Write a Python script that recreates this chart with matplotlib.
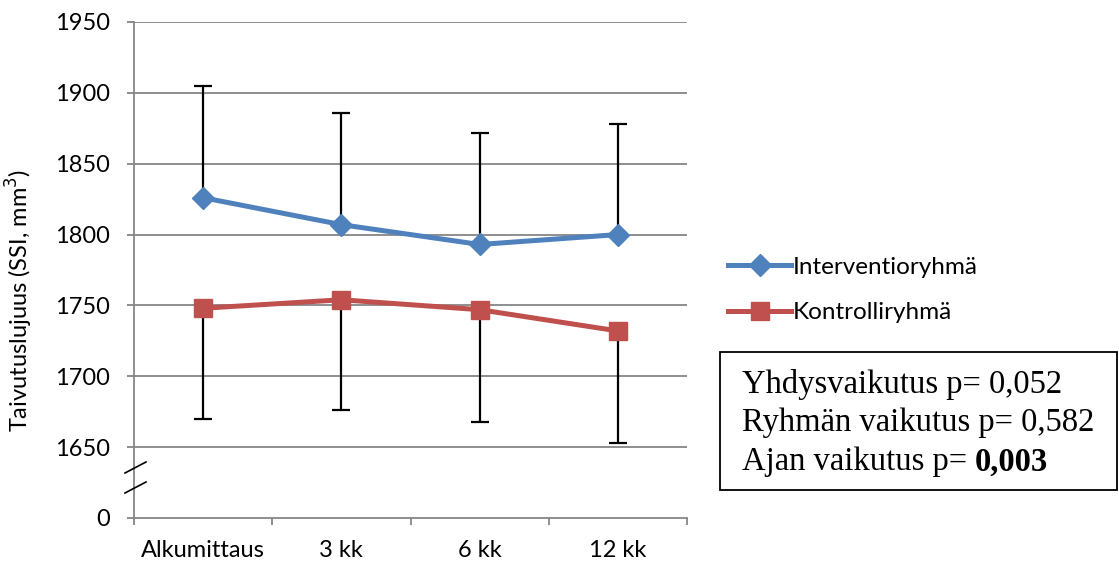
import matplotlib
matplotlib.use("Agg")
import matplotlib.pyplot as plt
import matplotlib.patches as patches
from matplotlib.lines import Line2D
import numpy as np

categories = ["Alkumittaus", "3 kk", "6 kk", "12 kk"]
interv = [1826, 1807, 1793, 1800]
interv_upper = [1905, 1886, 1872, 1878]
kontr = [1748, 1754, 1747, 1732]
kontr_lower = [1670, 1676, 1668, 1653]
ytick_vals = [1600, 1650, 1700, 1750, 1800, 1850, 1900, 1950]
ytick_labels = ["0", "1650", "1700", "1750", "1800", "1850", "1900", "1950"]
series_names = ["Interventioryhmä", "Kontrolliryhmä"]
stats_lines = ["Yhdysvaikutus p= 0,052", "Ryhmän vaikutus p= 0,582", "Ajan vaikutus p= "]
stats_bold = "0,003"

W, H = 1119, 562
fig = plt.figure(figsize=(W/100, H/100), dpi=100)
sans = "Lato"
fs = 17

ax = fig.add_axes([134/W, 1-518/H, (687-134)/W, (518-22)/H])
x = np.arange(len(categories))
blue = "#4F81BD"
red = "#C0504D"
grid = "#868686"

err_b = np.array(interv_upper) - np.array(interv)
err_r = np.array(kontr) - np.array(kontr_lower)

ax.errorbar(x, interv, yerr=[np.zeros_like(err_b), err_b], fmt="none", ecolor="black",
            elinewidth=1.6, capsize=6.5, capthick=1.6, zorder=3)
ax.errorbar(x, kontr, yerr=[err_r, np.zeros_like(err_r)], fmt="none", ecolor="black",
            elinewidth=1.6, capsize=6.5, capthick=1.6, zorder=3)
ax.plot(x, interv, color=blue, lw=3.6, marker="D", ms=11.5, markeredgecolor=blue, label=series_names[0], zorder=4)
ax.plot(x, kontr, color=red, lw=3.6, marker="s", ms=13.5, markeredgecolor=red, label=series_names[1], zorder=4)

ax.set_xlim(-0.5, len(categories)-0.5)
ax.set_ylim(1600, 1950)
ax.set_yticks(ytick_vals)
ax.set_yticklabels(ytick_labels, fontsize=fs, family=sans)
for yv in ytick_vals[1:]:
    ax.axhline(yv, color=grid, lw=1.3, zorder=1)

ax.set_xticks(np.arange(-0.5, len(categories), 1.0))
ax.set_xticklabels([])
ax.set_xticks(x, minor=True)
ax.set_xticklabels(categories, minor=True, fontsize=fs, family=sans)
ax.tick_params(axis="x", which="major", length=5, width=1.3, color=grid, direction="out")
ax.tick_params(axis="x", which="minor", length=0, pad=16)
ax.tick_params(axis="y", length=5, width=1.3, color=grid, direction="out", pad=12)

for s in ["top", "right"]:
    ax.spines[s].set_visible(False)
for s in ["left", "bottom"]:
    ax.spines[s].set_color(grid)
    ax.spines[s].set_linewidth(1.3)

# axis break marks
for (y0, y1) in [(473, 462), (493, 482)]:
    fig.add_artist(Line2D([125/W, 146/W], [1-y0/H, 1-y1/H], color="black", lw=1.2))

fig.text(19/W, 1-300/H, "Taivutuslujuus (SSI, mm$^3$)", rotation=90, va="center", ha="center",
         fontsize=fs, family=sans)

leg = ax.legend(loc="center left", bbox_to_anchor=(716/W, 1-290/H), bbox_transform=fig.transFigure,
                frameon=False, prop={"family": sans, "size": 17.5}, handlelength=2.6,
                handletextpad=0.05, labelspacing=1.0, borderpad=0)

# stats box
fig.add_artist(patches.Rectangle((720/W, 1-490/H), (1117-720)/W, (490-352)/H, transform=fig.transFigure,
                                 fill=False, edgecolor="black", lw=1.3))
serif = "Liberation Serif"
sfs = 23.5
ys = [385, 423, 462]
texts = []
for line, yy in zip(stats_lines, ys):
    t = fig.text(742/W, 1-yy/H, line, va="center", ha="left", fontsize=sfs, family=serif)
    texts.append(t)
fig.canvas.draw()
r = fig.canvas.get_renderer()
bb = texts[2].get_window_extent(r)
fig.text(bb.x1/W, 1-ys[2]/H, stats_bold, va="center", ha="left", fontsize=sfs, family=serif, weight="bold")

fig.savefig("out.png", dpi=100)
